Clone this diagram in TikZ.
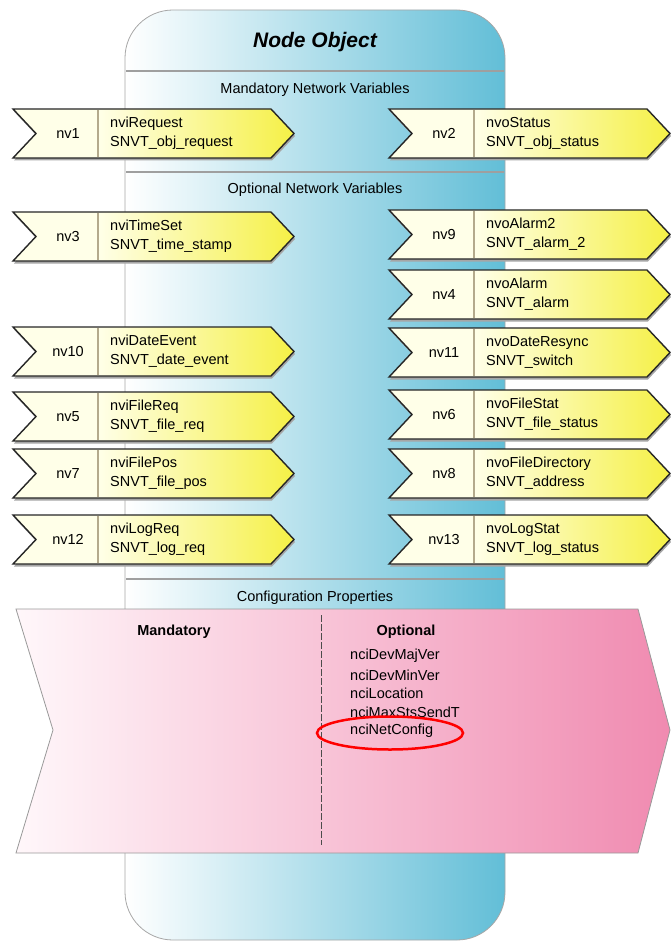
\documentclass[tikz,border=0pt]{standalone}
\usepackage{fontspec}
\setmainfont{Liberation Sans}
\usetikzlibrary{positioning, shapes.geometric}
\definecolor{bodyblue}{RGB}{98,190,215}
\definecolor{nvcream}{RGB}{255,255,232}
\definecolor{nvyellow}{RGB}{245,240,70}
\definecolor{cppink}{RGB}{240,138,176}
\definecolor{cplight}{RGB}{255,247,250}
\definecolor{nvdiv}{RGB}{180,170,140}
\tikzset{
body/.style={draw=gray!70, line width=0.8pt, left color=white, right color=bodyblue}, % the node object
secline/.style={draw=gray!75, line width=2pt}, % rules between sections
seclabel/.style={inner sep=0pt, font=\fontsize{14.5}{16}\selectfont},
nvborder/.style={draw=black!85, line width=1.4pt, line join=miter},
nvshadow/.style={fill=black!35},
nvdivider/.style={draw=nvdiv, line width=1.2pt},
nvtext/.style={inner sep=0pt, font=\fontsize{14.5}{19}\selectfont},
cpshape/.style={draw=gray!80, line width=0.8pt, left color=cplight, right color=cppink},
cphead/.style={inner sep=0pt, font=\bfseries\fontsize{14.5}{16}\selectfont},
cpitem/.style={inner sep=0pt, anchor=west, font=\fontsize{14.5}{16}\selectfont},
}
% one network variable: x, y (top), id, name, type
\newcommand{\nvarrow}[5]{%
\begin{scope}[shift={(#1,#2)}]
\fill[nvshadow] (1,2.5) -- (259,2.5) -- (282,27) -- (259,51.5) -- (1,51.5) -- (24,27) -- cycle;
\fill[nvcream] (0,0) -- (85,0) -- (85,49) -- (0,49) -- (23,24.5) -- cycle;
\shade[left color=nvcream, right color=nvyellow] (85,0) -- (258,0) -- (281,24.5) -- (258,49) -- (85,49) -- cycle;
\draw[nvdivider] (85,1) -- (85,48);
\draw[nvborder] (0,0) -- (258,0) -- (281,24.5) -- (258,49) -- (0,49) -- (23,24.5) -- cycle;
\node[nvtext] (#3) at (55,24.5) {#3};
\node[nvtext, anchor=west, align=left] (#3-name) at (97,24.5) {#4\\#5};
\end{scope}}

\begin{document}
\begin{tikzpicture}[x=1pt, y=-1pt]
\useasboundingbox (0,0) rectangle (670,941);

% node object body
\path[body, rounded corners=48] (125,10) rectangle (505,940);
\node[inner sep=0pt, font=\bfseries\itshape\fontsize{21}{24}\selectfont] (title) at (315,42) {Node Object};
\draw[secline] (126,71) -- (504,71);
\node[seclabel] (mandnv) at (315,90) {Mandatory Network Variables};
\draw[secline] (126,172) -- (504,172);
\node[seclabel] (optnv) at (315,190) {Optional Network Variables};
\draw[secline] (126,579) -- (504,579);
\node[seclabel] (confprop) at (315,598) {Configuration Properties};

% inputs
\nvarrow{13}{109}{nv1}{nviRequest}{SNVT\_obj\_request}
\nvarrow{13}{212}{nv3}{nviTimeSet}{SNVT\_time\_stamp}
\nvarrow{13}{327}{nv10}{nviDateEvent}{SNVT\_date\_event}
\nvarrow{13}{392}{nv5}{nviFileReq}{SNVT\_file\_req}
\nvarrow{13}{449}{nv7}{nviFilePos}{SNVT\_file\_pos}
\nvarrow{13}{515}{nv12}{nviLogReq}{SNVT\_log\_req}

% outputs
\nvarrow{389}{109}{nv2}{nvoStatus}{SNVT\_obj\_status}
\nvarrow{389}{210}{nv9}{nvoAlarm2}{SNVT\_alarm\_2}
\nvarrow{389}{270}{nv4}{nvoAlarm}{SNVT\_alarm}
\nvarrow{389}{328}{nv11}{nvoDateResync}{SNVT\_switch}
\nvarrow{389}{390}{nv6}{nvoFileStat}{SNVT\_file\_status}
\nvarrow{389}{449}{nv8}{nvoFileDirectory}{SNVT\_address}
\nvarrow{389}{515}{nv13}{nvoLogStat}{SNVT\_log\_status}

% configuration properties
\path[cpshape] (16,609) -- (638,609) -- (670,730) -- (638,853) -- (16,853) -- (53,730) -- cycle;
\draw[draw=black!70, line width=0.8pt, dash pattern=on 7pt off 2pt] (321,615) -- (321,845);
\node[cphead] (mandcp) at (174,632) {Mandatory};
\node[cphead] (optcp) at (406,632) {Optional};
\node[cpitem] (majver) at (350,656) {nciDevMajVer};
\node[cpitem] (minver) at (350,675) {nciDevMinVer};
\node[cpitem] (location) at (350,693) {nciLocation};
\node[cpitem] (maxsts) at (350,712) {nciMaxStsSendT};
\node[cpitem] (netconfig) at (350,731) {nciNetConfig};
\node[ellipse, draw=red, line width=2.5pt, minimum width=146pt, minimum height=33pt] (netmark) at (390,733) {};
\end{tikzpicture}
\end{document}
